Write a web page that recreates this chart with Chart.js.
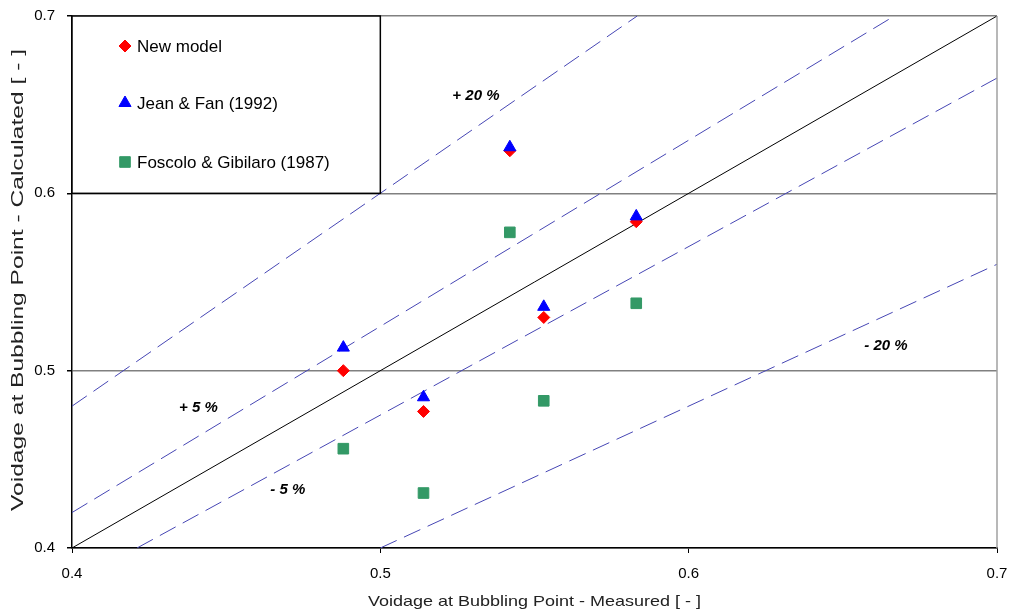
<!DOCTYPE html>
<html>
<head>
<meta charset="utf-8">
<script src="https://cdn.jsdelivr.net/npm/chart.js@4/dist/chart.umd.min.js"></script>
<style>
  html, body { margin: 0; padding: 0; background: #fff; }
  #wrap { width: 1013px; height: 616px; position: relative; }
</style>
</head>
<body>
<div id="wrap"><canvas id="chart"></canvas></div>
<script>
// measured values on x, calculated values per model
const measured = [0.488, 0.514, 0.542, 0.553, 0.583];
const newModel = [0.500, 0.477, 0.624, 0.530, 0.584];
const jeanFan = [0.513, 0.485, 0.626, 0.536, 0.587];
const foscolo = [0.456, 0.431, 0.578, 0.483, 0.538];

// parity and error band lines (end points)
const parityLine = [[0.4, 0.4], [0.7, 0.7]];
const plus20Line = [[0.4, 0.48], [0.5833, 0.7]];
const plus5Line = [[0.4, 0.42], [0.6667, 0.7]];
const minus5Line = [[0.4211, 0.4], [0.7, 0.665]];
const minus20Line = [[0.5, 0.4], [0.7, 0.56]];

const tickValues = [0.4, 0.5, 0.6, 0.7];
const bandLabels = ['+ 20 %', '+ 5 %', '- 5 %', '- 20 %'];
const bandLabelX = [0.531, 0.441, 0.470, 0.664];
const bandLabelY = [0.655, 0.479, 0.433, 0.514];

const xTitle = 'Voidage at Bubbling Point - Measured [ - ]';
const yTitle = 'Voidage at Bubbling Point - Calculated [ - ]';

const FONT = "'Liberation Sans', Arial, sans-serif";

const toPoints = (xs, ys) => xs.map((x, i) => ({ x: x, y: ys[i] }));
const linePoints = (pts) => pts.map((p) => ({ x: p[0], y: p[1] }));

function refLine(label, pts, dashed) {
  return {
    type: 'line',
    label: label,
    data: linePoints(pts),
    borderColor: dashed ? '#4646b4' : '#000000',
    borderWidth: 1,
    borderDash: dashed ? [18, 8] : [],
    pointRadius: 0,
    fill: false,
    order: 5,
  };
}

// text stretched along its run to a target length (the source image is stretched)
function stretchedText(ctx, text, cx, cy, length, angle) {
  const w = ctx.measureText(text).width;
  ctx.save();
  ctx.translate(cx, cy);
  ctx.rotate(angle);
  ctx.scale(length / w, 1);
  ctx.fillText(text, 0, 0);
  ctx.restore();
}

// draws the boxed legend, band labels, axis titles and right frame edge
const extrasPlugin = {
  id: 'extras',
  afterDatasetsDraw(chart) {
    const ctx = chart.ctx;
    const area = chart.chartArea;
    const xs = chart.scales.x;
    const ys = chart.scales.y;
    ctx.save();

    // right frame edge
    ctx.strokeStyle = '#a0a0a0';
    ctx.lineWidth = 1.5;
    ctx.beginPath();
    ctx.moveTo(area.right, area.top);
    ctx.lineTo(area.right, area.bottom);
    ctx.stroke();

    // band labels
    ctx.fillStyle = '#000';
    ctx.font = 'italic bold 15px ' + FONT;
    ctx.textAlign = 'center';
    ctx.textBaseline = 'middle';
    bandLabels.forEach((t, i) => {
      ctx.fillText(t, xs.getPixelForValue(bandLabelX[i]), ys.getPixelForValue(bandLabelY[i]));
    });

    // axis titles
    ctx.fillStyle = '#222';
    ctx.font = '15px ' + FONT;
    stretchedText(ctx, xTitle, (area.left + area.right) / 2, 602, 333, 0);
    ctx.font = '17px ' + FONT;
    stretchedText(ctx, yTitle, 18, 280, 462, -Math.PI / 2);

    // legend box
    const bx = area.left;
    const by = area.top;
    const bw = xs.getPixelForValue(0.5) - bx;
    const bh = ys.getPixelForValue(0.6) - by;
    ctx.fillStyle = '#fff';
    ctx.fillRect(bx, by, bw, bh);
    ctx.strokeStyle = '#000';
    ctx.lineWidth = 1.5;
    ctx.strokeRect(bx, by, bw, bh);

    const rowY = [by + 30, by + 87, by + 146];
    const items = chart.data.datasets.filter((d) => d.type !== 'line');
    items.sort((a, b) => a.legendRow - b.legendRow);
    ctx.font = '17px ' + FONT;
    ctx.textAlign = 'left';
    items.forEach((d, i) => {
      ctx.fillStyle = d.backgroundColor;
      ctx.strokeStyle = d.borderColor;
      ctx.lineWidth = 1;
      Chart.helpers.drawPoint(ctx, {
        pointStyle: d.pointStyle,
        radius: d.pointRadius,
        rotation: 0,
        borderWidth: 1,
      }, bx + 53, rowY[i]);
      ctx.fillStyle = '#000';
      ctx.fillText(d.label, bx + 65, rowY[i] + 1);
    });
    ctx.restore();
  },
};

new Chart(document.getElementById('chart'), {
  type: 'scatter',
  data: {
    datasets: [
      {
        label: 'Jean & Fan (1992)',
        data: toPoints(measured, jeanFan),
        pointStyle: 'triangle',
        pointRadius: 7,
        backgroundColor: '#0000ff',
        borderColor: '#0000ff',
        borderWidth: 1,
        order: 0,
        legendRow: 1,
      },
      {
        label: 'New model',
        data: toPoints(measured, newModel),
        pointStyle: 'rectRot',
        pointRadius: 6,
        backgroundColor: '#ff0000',
        borderColor: '#ff0000',
        borderWidth: 1,
        order: 1,
        legendRow: 0,
      },
      {
        label: 'Foscolo & Gibilaro (1987)',
        data: toPoints(measured, foscolo),
        pointStyle: 'rect',
        pointRadius: 7.5,
        backgroundColor: '#339966',
        borderColor: '#339966',
        borderWidth: 1,
        order: 2,
        legendRow: 2,
      },
      refLine('1:1', parityLine, false),
      refLine('+20%', plus20Line, true),
      refLine('+5%', plus5Line, true),
      refLine('-5%', minus5Line, true),
      refLine('-20%', minus20Line, true),
    ],
  },
  options: {
    responsive: true,
    maintainAspectRatio: false,
    animation: false,
    layout: { padding: { top: 16, right: 16, left: 0, bottom: 0 } },
    plugins: {
      legend: { display: false },
      tooltip: { enabled: false },
    },
    scales: {
      x: {
        type: 'linear',
        min: 0.4,
        max: 0.7,
        afterBuildTicks: (scale) => { scale.ticks = tickValues.map((v) => ({ value: v })); },
        afterFit: (scale) => {
          scale.height = 68;
          scale.paddingLeft = 0;
          scale.paddingRight = 0;
        },
        border: { display: true, color: '#000', width: 1.5 },
        grid: {
          drawOnChartArea: false,
          drawTicks: true,
          tickLength: 5,
          color: '#000',
        },
        ticks: {
          padding: 12,
          color: '#000',
          font: { family: FONT, size: 15 },
          maxRotation: 0,
          callback: (v) => Number(v).toFixed(1),
        },
        title: { display: false, text: xTitle },
      },
      y: {
        type: 'linear',
        min: 0.4,
        max: 0.7,
        afterBuildTicks: (scale) => { scale.ticks = tickValues.map((v) => ({ value: v })); },
        afterFit: (scale) => {
          scale.width = 72;
          scale.paddingTop = 0;
          scale.paddingBottom = 0;
        },
        border: { display: true, color: '#000', width: 1.5 },
        grid: {
          drawOnChartArea: true,
          drawTicks: true,
          tickLength: 5,
          color: '#808080',
          tickColor: '#000',
          lineWidth: 1.5,
        },
        ticks: {
          padding: 12,
          color: '#000',
          font: { family: FONT, size: 15 },
          callback: (v) => Number(v).toFixed(1),
        },
        title: { display: false, text: yTitle },
      },
    },
  },
  plugins: [extrasPlugin],
});
</script>
</body>
</html>
